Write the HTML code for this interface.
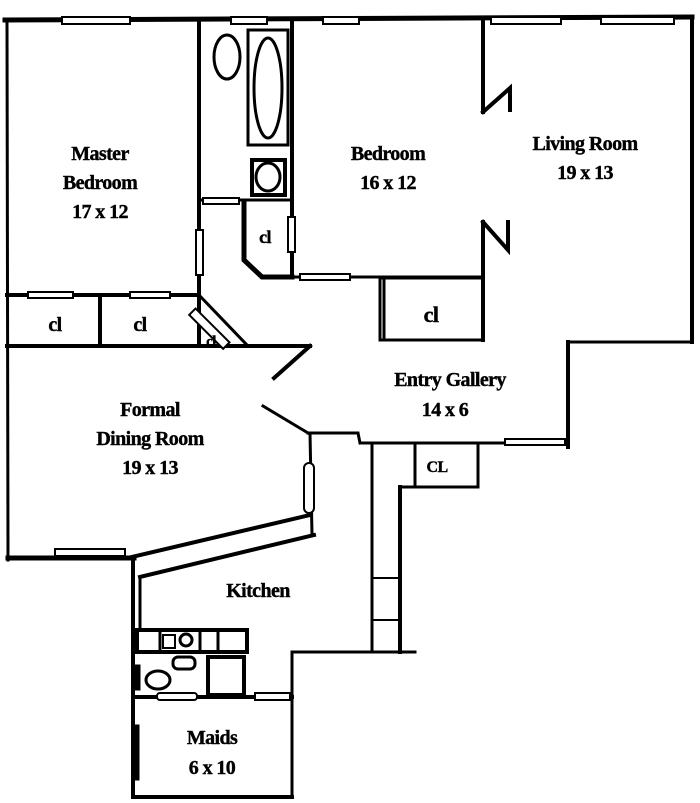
<!DOCTYPE html>
<html><head><style>
html,body{margin:0;padding:0;background:#fff;}
svg{display:block;}
text{font-family:"Liberation Serif",serif;font-weight:bold;fill:#000;text-anchor:middle;letter-spacing:-0.6px;stroke:#000;stroke-width:0.4px;}
</style></head><body>
<svg width="700" height="803" viewBox="0 0 700 803" xmlns="http://www.w3.org/2000/svg">
<g stroke="#000" fill="none" stroke-linecap="square">
<line x1="5" y1="20" x2="692" y2="17" stroke-width="5"/>
<line x1="7" y1="20" x2="8" y2="560" stroke-width="3"/>
<line x1="199" y1="20" x2="199" y2="345" stroke-width="4"/>
<line x1="7" y1="295" x2="199" y2="295" stroke-width="4"/>
<line x1="100" y1="295" x2="100" y2="345" stroke-width="4"/>
<line x1="7" y1="346" x2="310" y2="346" stroke-width="4"/>
<line x1="310" y1="346" x2="274" y2="378" stroke-width="4"/>
<line x1="199" y1="295" x2="246" y2="344" stroke-width="3"/>
<line x1="292" y1="20" x2="292" y2="276" stroke-width="4"/>
<line x1="199" y1="200" x2="292" y2="200" stroke-width="3"/>
<rect x="248" y="30" width="40" height="115" stroke-width="3"/>
<ellipse cx="268" cy="88" rx="14" ry="50" stroke-width="3"/>
<ellipse cx="227" cy="57" rx="13" ry="22" stroke-width="3"/>
<rect x="252" y="160" width="33" height="35" stroke-width="4"/>
<ellipse cx="268" cy="177" rx="12" ry="14" stroke-width="3"/>
<polyline points="244,203 244,260 262,277 292,277" stroke-width="5"/>
<line x1="262" y1="277" x2="483" y2="277" stroke-width="3"/>
<line x1="483" y1="20" x2="483" y2="112" stroke-width="4"/>
<polyline points="483,112 510,88 510,110" stroke-width="4"/>
<line x1="483" y1="222" x2="483" y2="340" stroke-width="4"/>
<polyline points="483,222 508,250 508,222" stroke-width="4"/>
<rect x="380" y="278" width="103" height="62" stroke-width="3"/>
<line x1="384" y1="280" x2="384" y2="338" stroke-width="3"/>
<line x1="692" y1="17" x2="692" y2="342" stroke-width="4"/>
<line x1="568" y1="342" x2="692" y2="342" stroke-width="3"/>
<line x1="568" y1="342" x2="568" y2="447" stroke-width="4"/>
<line x1="362" y1="443" x2="568" y2="443" stroke-width="3"/>
<line x1="263" y1="406" x2="308" y2="433" stroke-width="3"/>
<polyline points="308,433 358,433 360,443" stroke-width="3"/>
<line x1="310" y1="433" x2="312" y2="535" stroke-width="3"/>
<line x1="372" y1="443" x2="372" y2="652" stroke-width="3"/>
<line x1="400" y1="487" x2="400" y2="652" stroke-width="4"/>
<line x1="372" y1="578" x2="400" y2="578" stroke-width="2"/>
<line x1="372" y1="620" x2="400" y2="620" stroke-width="2"/>
<rect x="415" y="443" width="63" height="44" stroke-width="3"/>
<line x1="400" y1="487" x2="478" y2="487" stroke-width="3"/>
<line x1="8" y1="558" x2="134" y2="558" stroke-width="5"/>
<line x1="132" y1="557" x2="310" y2="515" stroke-width="4"/>
<line x1="140" y1="577" x2="314" y2="535" stroke-width="4"/>
<line x1="133" y1="558" x2="133" y2="797" stroke-width="4"/>
<line x1="140" y1="577" x2="140" y2="630" stroke-width="3"/>
<line x1="292" y1="652" x2="415" y2="652" stroke-width="3"/>
<line x1="292" y1="652" x2="292" y2="797" stroke-width="3"/>
<line x1="133" y1="797" x2="292" y2="797" stroke-width="4"/>
<line x1="133" y1="697" x2="292" y2="697" stroke-width="4"/>
<rect x="137" y="630" width="110" height="22" stroke-width="4"/>
<line x1="160" y1="630" x2="160" y2="652" stroke-width="3"/>
<line x1="200" y1="630" x2="200" y2="652" stroke-width="3"/>
<line x1="218" y1="630" x2="218" y2="652" stroke-width="3"/>
<rect x="163" y="635" width="12" height="13" stroke-width="2"/>
<circle cx="186" cy="640" r="6" stroke-width="3"/>
<rect x="208" y="657" width="36" height="38" stroke-width="4"/>
<rect x="173" y="657" width="22" height="12" rx="5" stroke-width="3"/>
<ellipse cx="158" cy="680" rx="12" ry="9" stroke-width="3"/>
<rect x="134" y="665" width="6" height="25" fill="#000"/>
<rect x="134" y="725" width="5" height="55" fill="#000"/>
<g stroke-width="2" fill="#fff">
<rect x="62" y="17" width="68" height="7"/>
<rect x="231" y="17" width="36" height="7"/>
<rect x="323" y="17" width="36" height="7"/>
<rect x="491" y="17" width="70" height="7"/>
<rect x="601" y="17" width="73" height="7"/>
<rect x="28" y="292" width="45" height="6"/>
<rect x="130" y="292" width="40" height="6"/>
<rect x="196" y="230" width="7" height="45"/>
<rect x="203" y="198" width="36" height="6"/>
<rect x="288" y="217" width="7" height="35"/>
<rect x="300" y="274" width="50" height="6"/>
<rect x="205" y="305" width="9" height="48" transform="rotate(-45 209 329)"/>
<rect x="304" y="463" width="10" height="50" rx="5"/>
<rect x="55" y="549" width="70" height="7"/>
<rect x="505" y="439" width="60" height="6"/>
<rect x="157" y="693" width="40" height="7" rx="3"/>
<rect x="255" y="693" width="35" height="7"/>
</g>
</g>
<g font-size="20">
<text x="100" y="160">Master</text>
<text x="100" y="189">Bedroom</text>
<text x="100" y="218">17 x 12</text>
<text x="388" y="160">Bedroom</text>
<text x="388" y="189">16 x 12</text>
<text x="585" y="150">Living Room</text>
<text x="585" y="179">19 x 13</text>
<text x="450" y="386">Entry Gallery</text>
<text x="445" y="416">14 x 6</text>
<text x="150" y="416">Formal</text>
<text x="150" y="445">Dining Room</text>
<text x="150" y="474">19 x 13</text>
<text x="258" y="597">Kitchen</text>
<text x="212" y="744">Maids</text>
<text x="212" y="774">6 x 10</text>
</g>
<g font-size="20">
<text x="55" y="331">cl</text>
<text x="140" y="331">cl</text>
<text x="265" y="243" font-size="18">cl</text>
<text x="431" y="322" font-size="22">cl</text>
<text x="211" y="346" font-size="15">cl</text>
<text x="437" y="472" font-size="16">CL</text>
</g>
</svg>
</body></html>
